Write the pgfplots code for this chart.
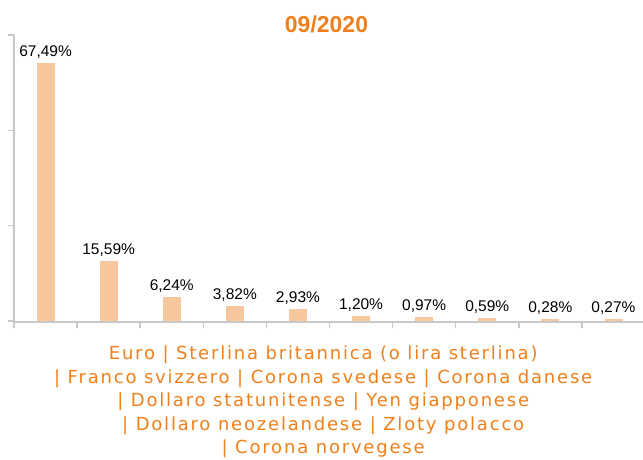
\documentclass[border=0pt]{standalone}
\usepackage{fontspec}
\setmainfont{Liberation Sans}
\newfontfamily\labelfont[LetterSpace=10]{DejaVu Sans}
\usepackage{pgfplots}
\pgfplotsset{compat=1.18}
\definecolor{barc}{HTML}{F6C69C}
\definecolor{orng}{HTML}{EF7F1A}
\definecolor{axg}{HTML}{C8C8C8}
\begin{document}
\begin{tikzpicture}
\useasboundingbox (0,0) rectangle (643pt,459pt);
\begin{axis}[
  at={(14pt,137pt)}, anchor=south west,
  scale only axis, width=631pt, height=287pt,
  xmin=-0.5, xmax=9.5, ymin=-0.3, ymax=75,
  axis x line*=bottom, axis y line*=left,
  axis line style={axg, line width=1.5pt},
  xtick={-0.5,0.5,...,9.5}, xticklabels={},
  ytick={0,25,50,75}, yticklabels={},
  tick align=outside, major tick length=6pt,
  tick style={axg, line width=1.5pt},
  clip=false,
  title={\bfseries\color{orng}09/2020},
  title style={font=\fontsize{23}{23}\selectfont, at={(rel axis cs:0.5,1)}, anchor=base, yshift=-3pt, xshift=-3pt, inner sep=0pt},
  xlabel={Euro | Sterlina britannica (o lira sterlina)\\| Franco svizzero | Corona svedese | Corona danese\\| Dollaro statunitense | Yen giapponese\\| Dollaro neozelandese | Zloty polacco\\| Corona norvegese},
  xlabel style={font=\labelfont\fontsize{18}{23.5}\selectfont, text=orng, align=center, at={(rel axis cs:0.49,0)}, anchor=north, yshift=-24pt, inner sep=0pt},
  nodes near coords={\pgfplotspointmeta},
  point meta=explicit symbolic,
  every node near coord/.append style={font=\fontsize{15.5}{15.5}\selectfont, text=black, anchor=base, yshift=7pt, inner sep=0pt},
]
\addplot[ybar, bar width=17pt, fill=barc, draw=barc, line width=0.8pt] coordinates {
  (0,67.49) [67,49\%]
  (1,15.59) [15,59\%]
  (2,6.24) [6,24\%]
  (3,3.82) [3,82\%]
  (4,2.93) [2,93\%]
  (5,1.20) [1,20\%]
  (6,0.97) [0,97\%]
  (7,0.59) [0,59\%]
  (8,0.28) [0,28\%]
  (9,0.27) [0,27\%]
};
\end{axis}
\end{tikzpicture}
\end{document}
